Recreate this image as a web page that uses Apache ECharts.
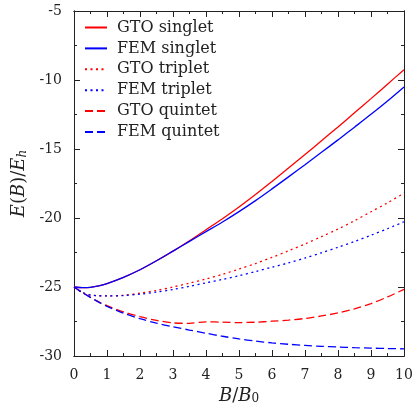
<!DOCTYPE html>
<html>
<head>
<meta charset="utf-8">
<script src="https://cdn.jsdelivr.net/npm/echarts@6/dist/echarts.min.js"></script>
<style>
  html, body { margin: 0; padding: 0; background: #fff; }
  #main { width: 419px; height: 419px; }
</style>
</head>
<body>
<div id="main"></div>
<script>
// magnetic field B/B0
var bField = [0, 0.25, 0.5, 0.75, 1, 1.5, 2, 2.5, 3, 3.5, 4, 4.5, 5, 5.5, 6, 6.5, 7, 7.5, 8, 8.5, 9, 9.5, 10];

var gtoSinglet = [-25, -25.04, -25.02, -24.92, -24.75, -24.3, -23.75, -23.1, -22.4, -21.65, -20.85, -20.05, -19.2, -18.3, -17.35, -16.38, -15.4, -14.4, -13.4, -12.38, -11.35, -10.3, -9.25];
var femSinglet = [-25, -25.04, -25.02, -24.92, -24.75, -24.3, -23.75, -23.1, -22.4, -21.69, -20.99, -20.29, -19.54, -18.74, -17.89, -17.02, -16.14, -15.24, -14.34, -13.42, -12.49, -11.52, -10.5];
var gtoTriplet = [-25, -25.4, -25.58, -25.63, -25.65, -25.6, -25.45, -25.25, -25.0, -24.72, -24.42, -24.08, -23.7, -23.3, -22.85, -22.38, -21.88, -21.35, -20.8, -20.2, -19.55, -18.9, -18.2];
var femTriplet = [-25, -25.4, -25.58, -25.63, -25.65, -25.62, -25.52, -25.37, -25.18, -24.95, -24.7, -24.45, -24.18, -23.88, -23.57, -23.25, -22.9, -22.52, -22.12, -21.7, -21.25, -20.78, -20.27];
var gtoQuintet = [-25, -25.4, -25.75, -26.08, -26.35, -26.8, -27.15, -27.42, -27.6, -27.63, -27.52, -27.55, -27.58, -27.55, -27.48, -27.4, -27.28, -27.1, -26.88, -26.58, -26.2, -25.72, -25.17];
var femQuintet = [-25, -25.4, -25.75, -26.1, -26.4, -26.9, -27.3, -27.62, -27.88, -28.12, -28.35, -28.57, -28.76, -28.92, -29.05, -29.15, -29.23, -29.3, -29.35, -29.4, -29.43, -29.46, -29.48];

var seriesNames = ['GTO singlet', 'FEM singlet', 'GTO triplet', 'FEM triplet', 'GTO quintet', 'FEM quintet'];

window.onload = function () {
    var myChart = echarts.init(document.getElementById('main'));
    var serif = 'DejaVu Serif';
    var ink = '#222';
    var dotted = [2, 3.5];
    var dashed = [8, 4];

    function pairs(ys) {
        return bField.map(function (x, i) { return [x, ys[i]]; });
    }
    function line(name, ys, color, type) {
        return {
            name: name,
            type: 'line',
            xAxisIndex: 0,
            yAxisIndex: 0,
            data: pairs(ys),
            smooth: 0.3,
            symbol: 'none',
            showSymbol: false,
            lineStyle: { color: color, width: 1.3, type: type },
            itemStyle: { color: color }
        };
    }

    // one frame side: long ticks on whole numbers, short ones in between
    function frameAxis(pos, min, max, step, tickLen, opts) {
        var a = {
            type: 'value',
            position: pos,
            min: min,
            max: max,
            interval: step,
            axisLine: { show: true, onZero: false, lineStyle: { color: ink, width: 1 } },
            axisTick: { show: true, inside: true, length: tickLen, lineStyle: { color: ink, width: 1 } },
            splitLine: { show: false },
            axisLabel: { show: false }
        };
        return Object.assign(a, opts || {});
    }

    var labelStyle = { show: true, fontFamily: serif, fontSize: 14, color: ink, margin: 12 };

    var option = {
        animation: false,
        grid: { left: 74, right: 15, top: 11, bottom: 63 },
        legend: {
            data: seriesNames,
            orient: 'vertical',
            left: 79,
            top: 14.5,
            itemWidth: 22,
            itemHeight: 14,
            itemGap: 4.9,
            itemStyle: { opacity: 0 },
            textStyle: {
                fontFamily: serif,
                fontSize: 16,
                lineHeight: 16,
                color: ink,
                padding: [0, 0, 0, 5]
            }
        },
        xAxis: [
            frameAxis('bottom', 0, 10, 1, 6, {
                axisLabel: labelStyle,
                name: '{i|B}/{i|B}{s|0}',
                nameLocation: 'middle',
                nameGap: 30,
                nameTextStyle: {
                    fontFamily: serif,
                    fontSize: 18,
                    color: ink,
                    rich: {
                        i: { fontFamily: serif, fontSize: 18, fontStyle: 'italic', color: ink },
                        s: { fontFamily: serif, fontSize: 12, verticalAlign: 'bottom', color: ink }
                    }
                }
            }),
            frameAxis('bottom', 0, 10, 0.5, 3),
            frameAxis('top', 0, 10, 1, 6),
            frameAxis('top', 0, 10, 0.5, 3)
        ],
        yAxis: [
            frameAxis('left', -30, -5, 5, 6, {
                axisLabel: labelStyle,
                name: '{i|E}({i|B})/{i|E}{s|h}',
                nameLocation: 'middle',
                nameGap: 42,
                nameTextStyle: {
                    fontFamily: serif,
                    fontSize: 18,
                    color: ink,
                    rich: {
                        i: { fontFamily: serif, fontSize: 18, fontStyle: 'italic', color: ink },
                        s: { fontFamily: serif, fontSize: 12, fontStyle: 'italic', verticalAlign: 'bottom', color: ink }
                    }
                }
            }),
            frameAxis('left', -30, -5, 2.5, 3),
            frameAxis('right', -30, -5, 5, 6),
            frameAxis('right', -30, -5, 2.5, 3)
        ],
        series: [
            line(seriesNames[0], gtoSinglet, '#ff0000', 'solid'),
            line(seriesNames[1], femSinglet, '#0000ff', 'solid'),
            line(seriesNames[2], gtoTriplet, '#ff0000', dotted),
            line(seriesNames[3], femTriplet, '#0000ff', dotted),
            line(seriesNames[4], gtoQuintet, '#ff0000', dashed),
            line(seriesNames[5], femQuintet, '#0000ff', dashed)
        ]
    };

    myChart.setOption(option);
};
</script>
</body>
</html>
